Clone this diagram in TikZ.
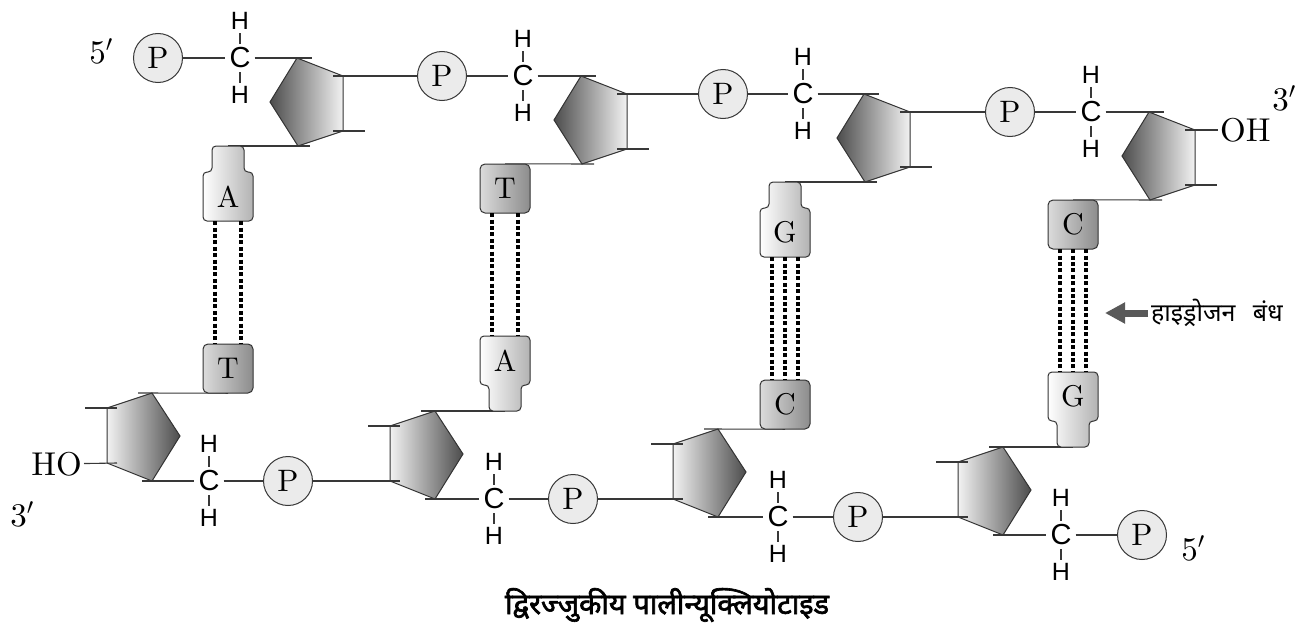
\RequirePackage{fix-cm}
\documentclass[tikz,border=0pt]{standalone}
\usepackage{fontspec}
\newfontfamily\labelserif{lmroman10-regular}[Extension=.otf]
\newfontfamily\chemsans{Liberation Sans}
\newfontfamily\deva[Script=Devanagari]{Noto Sans}
\newfontfamily\devabold[Script=Devanagari,FakeBold=2.2]{Noto Sans}
\usetikzlibrary{calc,arrows.meta}
\pgfdeclarelayer{sugars}
\pgfdeclarelayer{bonds}
\pgfsetlayers{sugars,bonds,main}

\tikzset{
  bondline/.style={draw=black!78, line width=1.1pt},
  sugarT/.style={draw=black!80, line width=1pt, left color=black!70, right color=black!5},
  sugarB/.style={draw=black!80, line width=1pt, left color=black!5, right color=black!70},
  phos/.style={circle, draw=black!78, line width=1pt, fill=black!8, minimum size=49pt,
    inner sep=0pt, font=\labelserif\fontsize{31}{31}\selectfont},
  carb/.style={inner sep=4pt, font=\chemsans\fontsize{29}{29}\selectfont},
  hyd/.style={inner sep=3.5pt, font=\chemsans\fontsize{25}{25}\selectfont},
  purine/.style={draw=black!80, line width=1pt, rounded corners=4pt, left color=white, right color=black!30},
  pyrimidine/.style={draw=black!80, line width=1pt, rounded corners=5pt, left color=black!14, right color=black!45},
  baselabel/.style={minimum width=50pt, minimum height=49pt, inner sep=0pt, font=\labelserif\fontsize{30}{30}\selectfont},
  hbond/.style={line width=3.2pt, dash pattern=on 4pt off 2.4pt},
  endlabel/.style={inner sep=2pt, font=\labelserif\fontsize{33}{33}\selectfont},
}

% purine with its stem pointing up / down; args: name, letter, centre x, box top
\newcommand\purineup[4]{%
  \path[purine] (#3-25,#4+49) -- (#3-25,#4) -- (#3-16,#4) -- (#3-16,#4-26)
     -- (#3+16,#4-26) -- (#3+16,#4) -- (#3+25,#4) -- (#3+25,#4+49) -- cycle;
  \node[baselabel] (#1) at (#3,#4+24.5) {#2};
  \coordinate (#1-stem) at (#3,#4-26);
}
\newcommand\purinedown[4]{%
  \path[purine] (#3-25,#4) -- (#3-25,#4+49) -- (#3-16,#4+49) -- (#3-16,#4+75)
     -- (#3+16,#4+75) -- (#3+16,#4+49) -- (#3+25,#4+49) -- (#3+25,#4) -- cycle;
  \node[baselabel] (#1) at (#3,#4+24.5) {#2};
  \coordinate (#1-stem) at (#3,#4+75);
}
\newcommand\pyrimidine[4]{%
  \path[pyrimidine] (#3-25,#4) rectangle (#3+25,#4+49);
  \node[baselabel] (#1) at (#3,#4+24.5) {#2};
}

% deoxyribose rings; upper strand: name, right edge x, top y
\newcommand\sugartop[3]{%
  \coordinate (#1-t) at (#2-46,#3);
  \coordinate (#1-ur) at (#2,#3+18);
  \coordinate (#1-lr) at (#2,#3+73);
  \coordinate (#1-b) at (#2-45,#3+88);
  \coordinate (#1-l) at (#2-73,#3+44);
  \begin{pgfonlayer}{sugars}
  \path[sugarT] (#1-t) -- (#1-ur) -- (#1-lr) -- (#1-b) -- (#1-l) -- cycle;
  \end{pgfonlayer}
}
% lower strand: name, left edge x, centre y
\newcommand\sugarbot[3]{%
  \coordinate (#1-t) at (#2+45,#3-43);
  \coordinate (#1-ul) at (#2,#3-28);
  \coordinate (#1-ll) at (#2,#3+27);
  \coordinate (#1-b) at (#2+45,#3+45);
  \coordinate (#1-r) at (#2+73,#3);
  \begin{pgfonlayer}{sugars}
  \path[sugarB] (#1-t) -- (#1-r) -- (#1-b) -- (#1-ll) -- (#1-ul) -- cycle;
  \end{pgfonlayer}
}

% CH2 group: name, x, y
\newcommand\methylene[3]{%
  \node[carb] (#1) at (#2,#3) {C};
  \node[hyd] (#1-ha) at (#2,#3-37) {H};
  \node[hyd] (#1-hb) at (#2,#3+37) {H};
  \begin{pgfonlayer}{bonds}
  \draw[bondline] (#1-ha) -- (#1) -- (#1-hb);
  \end{pgfonlayer}
}

\begin{document}
\begin{tikzpicture}[x=1pt,y=-1pt]
\useasboundingbox (0,0) rectangle (1308,626);

% ---------- upper strand ----------
\sugartop{s1}{343}{58}
\sugartop{s2}{627}{76}
\sugartop{s3}{910}{94}
\sugartop{s4}{1195}{112}
\node[phos] (p1) at (158,58) {P};
\node[phos] (p2) at (442,76) {P};
\node[phos] (p3) at (723,94) {P};
\node[phos] (p4) at (1010,112) {P};
\methylene{c1}{240}{58}
\methylene{c2}{523}{76}
\methylene{c3}{803}{94}
\methylene{c4}{1091}{112}
\node[endlabel] (five1) at (101,51) {5$'$};
\node[endlabel] (three1) at (1284,98) {3$'$};
\node[endlabel, anchor=west, inner sep=2pt] (oh) at (1218,130) {OH};

% ---------- lower strand ----------
\sugarbot{r1}{107}{436}
\sugarbot{r2}{390}{454}
\sugarbot{r3}{673}{472}
\sugarbot{r4}{958}{490}
\methylene{d1}{209}{481}
\methylene{d2}{494}{499}
\methylene{d3}{778}{517}
\methylene{d4}{1061}{535}
\node[phos] (q1) at (288,481) {P};
\node[phos] (q2) at (573,499) {P};
\node[phos] (q3) at (858,517) {P};
\node[phos] (q4) at (1142,535) {P};
\node[endlabel] (three2) at (22,514) {3$'$};
\node[endlabel] (five2) at (1193,548) {5$'$};
\node[endlabel, anchor=east, inner sep=2pt] (ho) at (84,464) {HO};

% ---------- bases ----------
\purineup{b1u}{A}{228}{172}
\pyrimidine{b1d}{T}{228}{344}
\pyrimidine{b2u}{T}{505}{164}
\purinedown{b2d}{A}{505}{336}
\purineup{b3u}{G}{785}{208}
\pyrimidine{b3d}{C}{785}{380}
\pyrimidine{b4u}{C}{1073}{200}
\purinedown{b4d}{G}{1073}{372}

% hydrogen bonds
\foreach \dx in {-13,13} {
  \draw[hbond] ([xshift=\dx pt]b1u.south) -- ([xshift=\dx pt]b1d.north);
  \draw[hbond] ([xshift=\dx pt]b2u.south) -- ([xshift=\dx pt]b2d.north);
}
\foreach \dx in {-13,0,13} {
  \draw[hbond] ([xshift=\dx pt]b3u.south) -- ([xshift=\dx pt]b3d.north);
  \draw[hbond] ([xshift=\dx pt]b4u.south) -- ([xshift=\dx pt]b4d.north);
}

% ---------- backbone connectors ----------
\begin{pgfonlayer}{bonds}
  % upper strand
  \draw[bondline] (p1) -- (c1) -- ($(s1-t)+(15,0)$);
  \draw[bondline] ($(s1-ur)+(-10,0)$) -- (p2) -- (c2) -- ($(s2-t)+(15,0)$);
  \draw[bondline] ($(s2-ur)+(-10,0)$) -- (p3) -- (c3) -- ($(s3-t)+(15,0)$);
  \draw[bondline] ($(s3-ur)+(-10,0)$) -- (p4) -- (c4) -- ($(s4-t)+(15,0)$);
  \draw[bondline] ($(s4-ur)+(-10,0)$) -- (oh);
  \foreach \s in {s1,s2,s3,s4}
    \draw[bondline] ($(\s-lr)+(-10,0)$) -- ($(\s-lr)+(22,0)$);
  \draw[bondline] ($(s1-b)+(12,0)$) -- (b1u-stem);
  \draw[bondline] ($(s2-b)+(12,0)$) -- (b2u.north);
  \draw[bondline] ($(s3-b)+(12,0)$) -- (b3u-stem);
  \draw[bondline] ($(s4-b)+(12,0)$) -- (b4u.north);
  % lower strand
  \draw[bondline] (ho) -- ($(r1-ll)+(10,0)$);
  \draw[bondline] ($(r1-b)+(-10,0)$) -- (d1) -- (q1) -- ($(r2-ll)+(10,0)$);
  \draw[bondline] ($(r2-b)+(-10,0)$) -- (d2) -- (q2) -- ($(r3-ll)+(10,0)$);
  \draw[bondline] ($(r3-b)+(-10,0)$) -- (d3) -- (q3) -- ($(r4-ll)+(10,0)$);
  \draw[bondline] ($(r4-b)+(-10,0)$) -- (d4) -- (q4);
  \foreach \r in {r1,r2,r3,r4}
    \draw[bondline] ($(\r-ul)+(-22,0)$) -- ($(\r-ul)+(10,0)$);
  \draw[bondline] ($(r1-t)+(-14,0)$) -- (b1d.south);
  \draw[bondline] ($(r2-t)+(-14,0)$) -- (b2d-stem);
  \draw[bondline] ($(r3-t)+(-14,0)$) -- (b3d.south);
  \draw[bondline] ($(r4-t)+(-14,0)$) -- (b4d-stem);
\end{pgfonlayer}

% hydrogen-bond caption with its arrow
\node[font=\deva\fontsize{25}{25}\selectfont, anchor=west, inner sep=3pt] (hblabel) at (1148,313) {हाइड्रोजन\hspace{0.7em}बंध};
\coordinate (hbtip) at (1105,313);
\draw[line width=7pt, draw=black!65, -{Triangle[width=20pt,length=20pt]}] (hblabel) -- (hbtip);

% caption
\node[font=\devabold\fontsize{29}{29}\selectfont] (title) at (667,605) {द्विरज्जुकीय पालीन्यूक्लियोटाइड};
\end{tikzpicture}
\end{document}
